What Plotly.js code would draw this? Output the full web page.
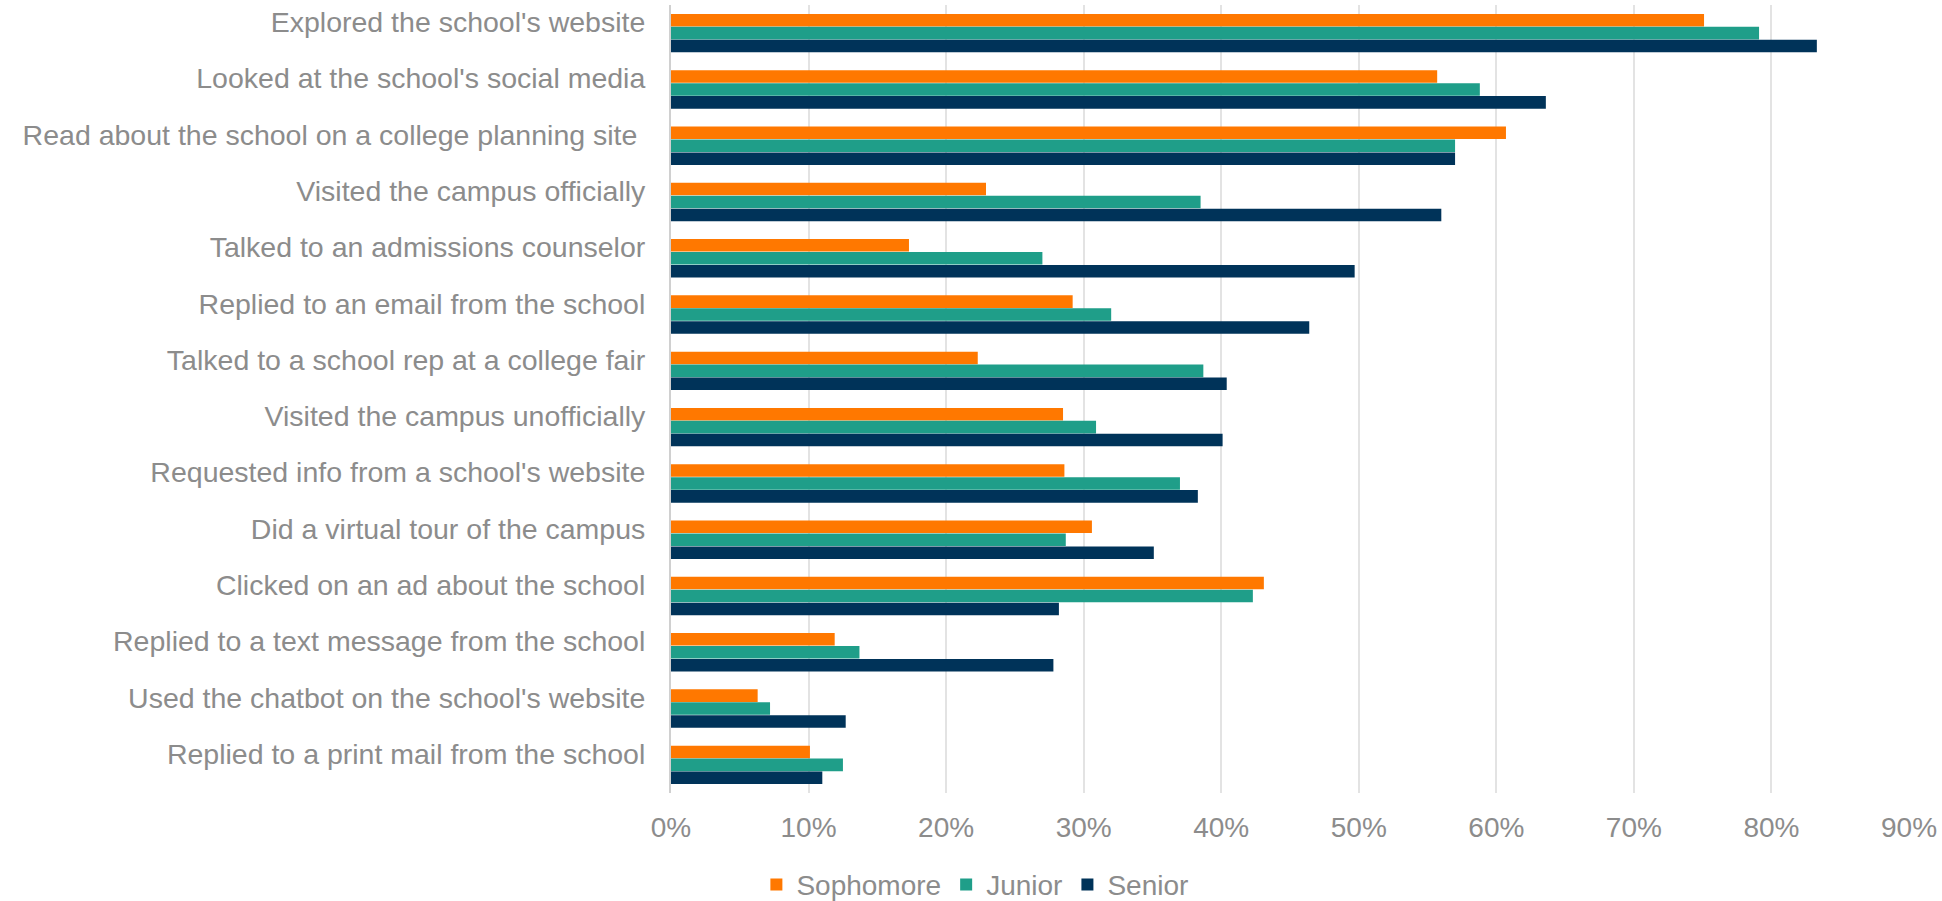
<!DOCTYPE html>
<html>
<head>
<meta charset="utf-8">
<script src="https://cdn.plot.ly/plotly-3.0.1.min.js"></script>
<style>
  html, body { margin: 0; padding: 0; background: #ffffff; }
  #chart { width: 1942px; height: 901px; }
</style>
</head>
<body>
<div id="chart"></div>
<script>
const categories = [
  "Explored the school's website",
  "Looked at the school's social media",
  "Read about the school on a college planning site\u00a0",
  "Visited the campus officially",
  "Talked to an admissions counselor",
  "Replied to an email from the school",
  "Talked to a school rep at a college fair",
  "Visited the campus unofficially",
  "Requested info from a school's website",
  "Did a virtual tour of the campus",
  "Clicked on an ad about the school",
  "Replied to a text message from the school",
  "Used the chatbot on the school's website",
  "Replied to a print mail from the school"
];
const sophomore = [0.751, 0.557, 0.607, 0.229, 0.173, 0.292, 0.223, 0.285, 0.286, 0.306, 0.431, 0.119, 0.063, 0.101];
const junior    = [0.791, 0.588, 0.570, 0.385, 0.270, 0.320, 0.387, 0.309, 0.370, 0.287, 0.423, 0.137, 0.072, 0.125];
const senior    = [0.833, 0.636, 0.570, 0.560, 0.497, 0.464, 0.404, 0.401, 0.383, 0.351, 0.282, 0.278, 0.127, 0.110];
const seriesNames = ["Sophomore", "Junior", "Senior"];
const seriesColors = ["#FF7800", "#1F9E89", "#003359"];
const tickVals = [0, 0.1, 0.2, 0.3, 0.4, 0.5, 0.6, 0.7, 0.8, 0.9];
const tickText = ["0%", "10%", "20%", "30%", "40%", "50%", "60%", "70%", "80%", "90%"];

const FONT = '"Liberation Sans", Arial, sans-serif';
const GREY = '#8c8c8c';

const values = [sophomore, junior, senior];
const traces = values.map((v, i) => ({
  type: 'bar',
  orientation: 'h',
  name: seriesNames[i],
  x: v,
  y: categories,
  marker: { color: seriesColors[i], line: { width: 0 } },
  hoverinfo: 'x+y+name'
}));

const layout = {
  width: 1942,
  height: 901,
  paper_bgcolor: '#ffffff',
  plot_bgcolor: '#ffffff',
  margin: { l: 671, r: 33, t: 5, b: 108, pad: 0 },
  barmode: 'group',
  bargap: 0.31,
  bargroupgap: 0.03,
  font: { family: FONT, color: GREY, size: 28 },
  xaxis: {
    range: [0, 0.9],
    tickvals: tickVals,
    ticktext: tickText,
    showgrid: true,
    gridcolor: '#e3e3e3',
    gridwidth: 2,
    zeroline: false,
    showline: false,
    ticks: 'outside',
    ticklen: 9,
    tickcolor: 'rgba(0,0,0,0)',
    tickfont: { family: FONT, size: 28, color: GREY },
    fixedrange: true
  },
  yaxis: {
    type: 'category',
    autorange: 'reversed',
    showgrid: false,
    zeroline: false,
    showline: true,
    linecolor: '#d0d0d0',
    linewidth: 2,
    ticks: 'outside',
    ticklen: 18,
    tickcolor: 'rgba(0,0,0,0)',
    ticklabelshift: 11,
    tickfont: { family: FONT, size: 28.5, color: GREY },
    fixedrange: true
  },
  showlegend: true,
  legend: {
    orientation: 'h',
    xref: 'container',
    yref: 'container',
    x: 0.502,
    xanchor: 'center',
    y: 0.018,
    yanchor: 'middle',
    font: { family: FONT, size: 28, color: GREY },
    itemwidth: 30,
    tracegroupgap: 0,
    bgcolor: 'rgba(0,0,0,0)'
  }
};

Plotly.newPlot('chart', traces, layout, { displayModeBar: false, staticPlot: true });
</script>
</body>
</html>
